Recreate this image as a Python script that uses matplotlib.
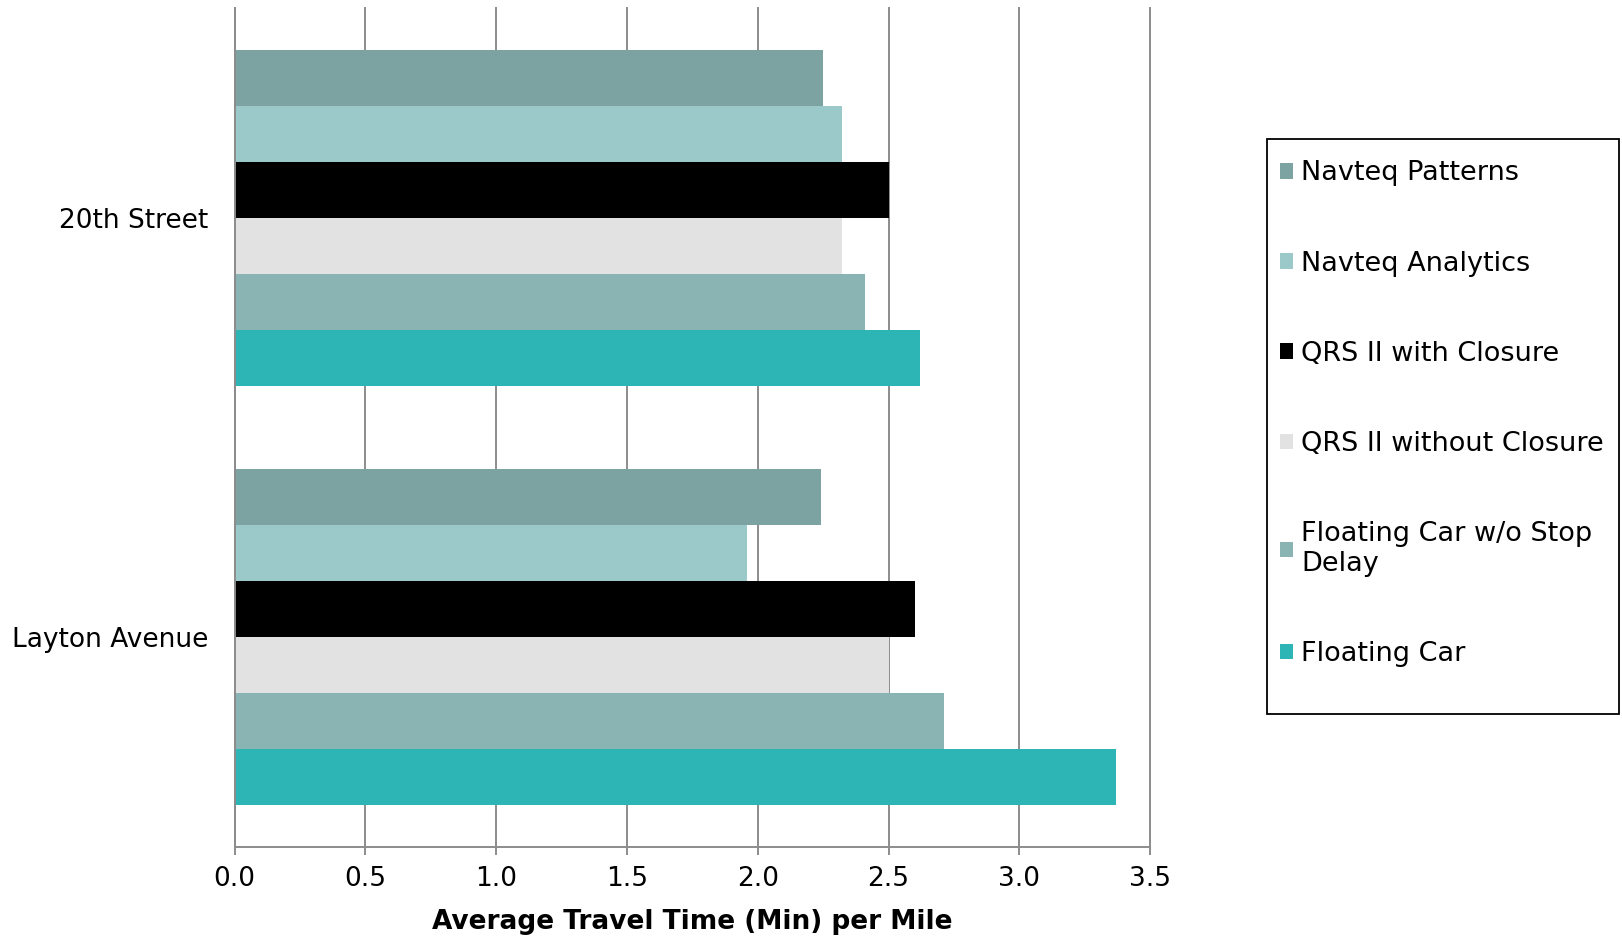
import matplotlib
matplotlib.use("Agg")
import matplotlib.pyplot as plt
import numpy as np
from matplotlib.patches import Rectangle

# corridors, bottom to top as drawn
corridors = ["Layton Avenue", "20th Street"]

series_names = ["Navteq Patterns", "Navteq Analytics", "QRS II with Closure",
                "QRS II without Closure", "Floating Car w/o Stop\nDelay",
                "Floating Car"]
series_colors = ["#7CA3A1", "#9BC9C9", "#000000", "#E2E2E2", "#8AB4B4", "#2DB4B4"]

# average travel time (min) per mile, [Layton Avenue, 20th Street]
navteq_patterns = [2.24, 2.25]
navteq_analytics = [1.96, 2.32]
qrs_with_closure = [2.60, 2.50]
qrs_without_closure = [2.50, 2.32]
floating_car_no_stop = [2.71, 2.41]
floating_car = [3.37, 2.62]

values = [navteq_patterns, navteq_analytics, qrs_with_closure,
          qrs_without_closure, floating_car_no_stop, floating_car]

x_ticks = [0.0, 0.5, 1.0, 1.5, 2.0, 2.5, 3.0, 3.5]

grid_gray = "#8C8C8C"

fig = plt.figure(figsize=(16.22, 9.38), dpi=100)
ax = fig.add_axes([0.1447, 0.097, 0.5644, 0.8945])

y = np.arange(len(corridors))
h = 0.8 / len(values)
for i, (name, vals, col) in enumerate(zip(series_names, values, series_colors)):
    off = 0.4 - h * (i + 0.5)
    ax.barh(y + off, vals, height=h, color=col, label=name, zorder=3)

ax.set_xlim(0, 3.5)
ax.set_ylim(-0.5, 1.5)
ax.set_xticks(x_ticks)
ax.set_xticklabels(["%.1f" % t for t in x_ticks])
ax.set_yticks(y)
ax.set_yticklabels(corridors)

ax.grid(axis="x", color=grid_gray, linewidth=1.4, zorder=0)
ax.set_axisbelow(True)
for gl in ax.get_xgridlines():
    gl.set_clip_on(False)
for s in ["top", "right"]:
    ax.spines[s].set_visible(False)
for s in ["left", "bottom"]:
    ax.spines[s].set_color(grid_gray)
    ax.spines[s].set_linewidth(1.4)
    ax.spines[s].set_zorder(4)

ax.tick_params(axis="x", direction="out", length=6, width=1.4, color=grid_gray,
               labelsize=19, pad=8)
ax.tick_params(axis="y", length=0, labelsize=19, pad=19)
ax.set_xlabel("Average Travel Time (Min) per Mile", fontsize=19,
              fontweight="bold", labelpad=12)

leg = ax.legend(loc="upper left", bbox_to_anchor=(0.789, 0.829),
                bbox_transform=fig.transFigure, frameon=False, fontsize=19.5,
                handlelength=0.5, handleheight=0.5, handletextpad=0.3,
                labelspacing=2.37, borderpad=0, borderaxespad=0)

fig.add_artist(Rectangle((0.7811, 0.2388), 0.217, 0.613, transform=fig.transFigure,
                         fill=False, edgecolor="black", linewidth=1.3))

fig.savefig("out.png", dpi=100)
